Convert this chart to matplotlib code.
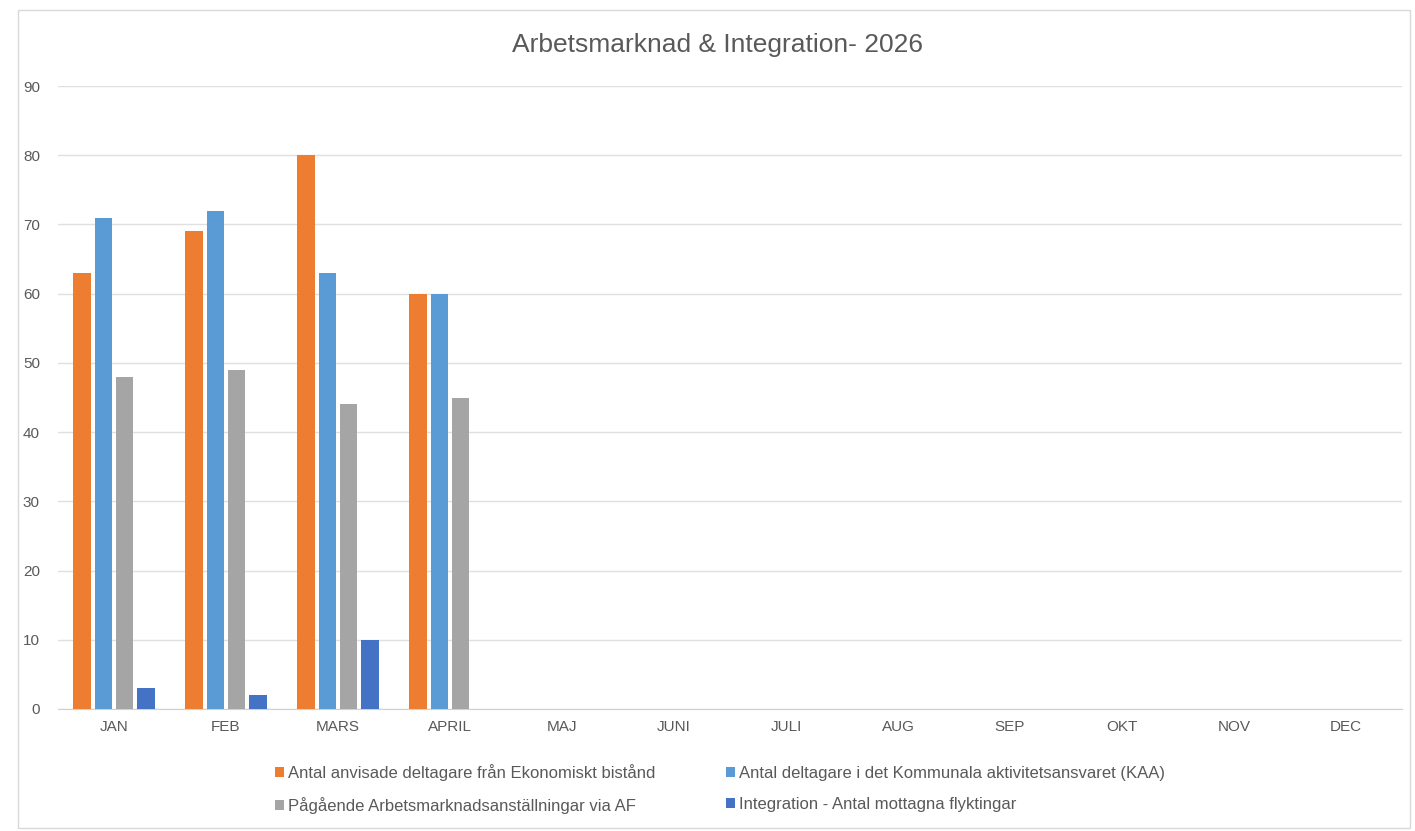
import numpy as np
import matplotlib
matplotlib.use('Agg')
matplotlib.rcParams['font.family'] = ['Liberation Sans', 'DejaVu Sans']
from matplotlib import pyplot as plt
from matplotlib.patches import Rectangle

months = ['JAN', 'FEB', 'MARS', 'APRIL', 'MAJ', 'JUNI', 'JULI', 'AUG', 'SEP', 'OKT', 'NOV', 'DEC']
series_names = [
    'Antal anvisade deltagare från Ekonomiskt bistånd',
    'Antal deltagare i det Kommunala aktivitetsansvaret (KAA)',
    'Pågående Arbetsmarknadsanställningar via AF',
    'Integration - Antal mottagna flyktingar',
]
ekonomiskt = [63, 69, 80, 60]
kaa = [71, 72, 63, 60]
af = [48, 49, 44, 45]
integration = [3, 2, 10, 0]
colors = ['#ED7D31', '#5B9BD5', '#A5A5A5', '#4472C4']

fig = plt.figure(figsize=(14.15, 8.31), dpi=100)
# thin chart border like Excel
fig.patches.append(Rectangle((18 / 1415, 3 / 831), 1392 / 1415, 818 / 831, transform=fig.transFigure,
                             fill=False, edgecolor='#D9D9D9', linewidth=1))
ax = fig.add_axes([58 / 1415, 1 - 709 / 831, 1344 / 1415, 623 / 831])

x = np.arange(len(months))
slot = 0.19
width = 0.155
data = [ekonomiskt, kaa, af, integration]
for i, (vals, c, name) in enumerate(zip(data, colors, series_names)):
    xs = x[:len(vals)] + (i - 1.5) * slot
    ax.bar(xs, vals, width=width, color=c, label=name, zorder=3)

ax.set_xlim(-0.5, len(months) - 0.5)
ax.set_ylim(0, 90)
ax.set_yticks(range(0, 91, 10))
ax.set_xticks(x)
ax.set_xticklabels(months)
ax.tick_params(axis='both', length=0, labelsize=11, colors='#595959')
ax.xaxis.set_tick_params(pad=8)
ax.yaxis.set_tick_params(pad=13)
ax.yaxis.grid(True, color='#E0E0E0', linewidth=1, zorder=0)
for s in ['top', 'right', 'left']:
    ax.spines[s].set_visible(False)
ax.spines['bottom'].set_color('#D0D0D0')

fig.text(718 / 1415, 1 - 45 / 831, 'Arbetsmarknad & Integration- 2026', ha='center', va='center',
         fontsize=19, color='#595959')

handles, labels = ax.get_legend_handles_labels()
order = [0, 2, 1, 3]
fig.legend([handles[k] for k in order], [labels[k] for k in order], ncol=2, loc='center',
           bbox_to_anchor=(720 / 1415, 1 - 789 / 831),
           frameon=False, fontsize=12, labelcolor='#595959', handlelength=0.55, handleheight=0.55,
           handletextpad=0.25, columnspacing=4.2, labelspacing=1.0)

plt.savefig('out.png')
